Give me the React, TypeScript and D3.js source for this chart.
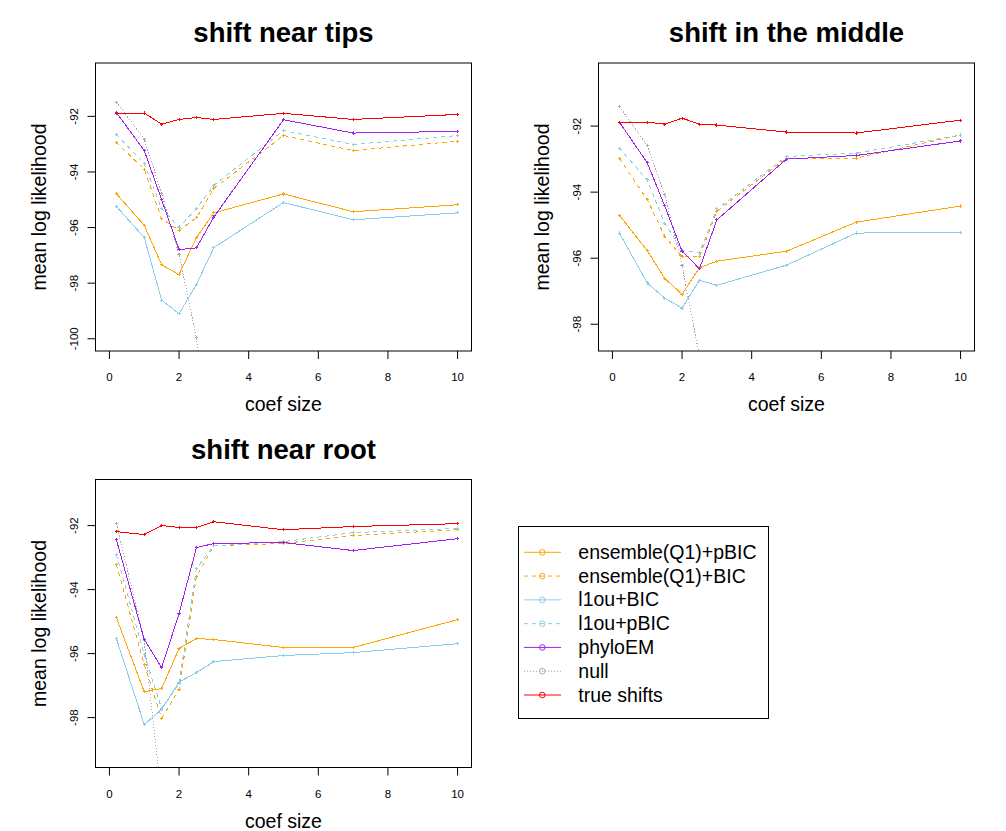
import React from "react";
import * as d3 from "d3";

// coefficient sizes on the x axis
const coefSizes = [0.2, 1, 1.5, 2, 2.5, 3, 5, 7, 10];

// legend order
const seriesNames = [
  "ensemble(Q1)+pBIC",
  "ensemble(Q1)+BIC",
  "l1ou+BIC",
  "l1ou+pBIC",
  "phyloEM",
  "null",
  "true shifts",
];

// shift near tips
const tipsEnsPBIC = [-94.78, -95.92, -97.34, -97.69, -96.36, -95.47, -94.79, -95.43, -95.18];
const tipsEnsBIC = [-92.94, -93.9, -95.68, -96.1, -95.65, -94.59, -92.69, -93.23, -92.89];
const tipsL1ouBIC = [-95.24, -96.36, -98.61, -99.1, -98.04, -96.72, -95.1, -95.72, -95.47];
const tipsL1ouPBIC = [-92.65, -93.7, -95.32, -95.98, -95.32, -94.48, -92.51, -93.01, -92.69];
const tipsPhyloEM = [-91.86, -93.23, -95.0, -96.79, -96.73, -95.62, -92.12, -92.6, -92.54];
const tipsNull = [-91.49, -92.82, -94.76, -96.98, -99.97, -105.0, -108.0, -110.0, -112.0];
const tipsTrue = [-91.88, -91.88, -92.28, -92.11, -92.04, -92.11, -91.89, -92.11, -91.93];

// shift in the middle
const midEnsPBIC = [-94.7, -95.77, -96.61, -97.09, -96.29, -96.09, -95.79, -94.91, -94.42];
const midEnsBIC = [-92.98, -94.23, -95.33, -95.96, -95.95, -94.58, -92.97, -92.97, -92.27];
const midL1ouBIC = [-95.24, -96.75, -97.21, -97.51, -96.67, -96.82, -96.21, -95.24, -95.21];
const midL1ouPBIC = [-92.67, -93.63, -94.94, -95.76, -95.84, -94.51, -92.92, -92.82, -92.27];
const midPhyloEM = [-91.88, -93.11, -94.41, -95.79, -96.32, -94.84, -93.0, -92.89, -92.45];
const midNull = [-91.41, -92.59, -94.06, -96.22, -98.97, -104.0, -108.0, -110.0, -112.0];
const midTrue = [-91.88, -91.88, -91.94, -91.76, -91.94, -91.97, -92.18, -92.21, -91.82];

// shift near root
const rootEnsPBIC = [-94.88, -97.19, -97.09, -95.84, -95.53, -95.56, -95.81, -95.81, -94.94];
const rootEnsBIC = [-93.22, -96.34, -98.02, -97.13, -93.59, -92.63, -92.56, -92.31, -92.13];
const rootL1ouBIC = [-95.53, -98.22, -97.74, -96.89, -96.59, -96.25, -96.06, -95.97, -95.69];
const rootL1ouPBIC = [-92.91, -96.03, -97.72, -96.94, -93.34, -92.63, -92.5, -92.22, -92.09];
const rootPhyloEM = [-92.44, -95.56, -96.44, -94.75, -92.69, -92.56, -92.53, -92.78, -92.41];
const rootNull = [-91.94, -95.6, -100.5, -105.0, -108.0, -110.0, -112.0, -114.0, -116.0];
const rootTrue = [-92.19, -92.28, -92.0, -92.06, -92.06, -91.88, -92.13, -92.03, -91.94];

const xTicks = [0, 2, 4, 6, 8, 10];
const tipsYTicks = [-100, -98, -96, -94, -92];
const midYTicks = [-98, -96, -94, -92];
const rootYTicks = [-98, -96, -94, -92];

const styles = [
  { color: "#FFA500", dash: null },
  { color: "#FFA500", dash: "4,4" },
  { color: "#87CEEB", dash: null },
  { color: "#87CEEB", dash: "4,4" },
  { color: "#A020F0", dash: null },
  { color: "#A9A9A9", dash: "1.3,1.7" },
  { color: "#FF0000", dash: null },
];

const FONT = "Liberation Sans, Arial, Helvetica, sans-serif";
const PW = 376;
const PH = 288;

const panels = [
  {
    id: "tips",
    title: "shift near tips",
    left: 95.5,
    top: 63,
    yDomain: [-100.44, -90.08],
    yTicks: tipsYTicks,
    series: [tipsEnsPBIC, tipsEnsBIC, tipsL1ouBIC, tipsL1ouPBIC, tipsPhyloEM, tipsNull, tipsTrue],
  },
  {
    id: "mid",
    title: "shift in the middle",
    left: 598.5,
    top: 63,
    yDomain: [-98.81, -90.09],
    yTicks: midYTicks,
    series: [midEnsPBIC, midEnsBIC, midL1ouBIC, midL1ouPBIC, midPhyloEM, midNull, midTrue],
  },
  {
    id: "root",
    title: "shift near root",
    left: 95.5,
    top: 479.5,
    yDomain: [-99.56, -90.56],
    yTicks: rootYTicks,
    series: [rootEnsPBIC, rootEnsBIC, rootL1ouBIC, rootL1ouPBIC, rootPhyloEM, rootNull, rootTrue],
  },
];

// null first so the other lines sit on top
const drawOrder = [5, 0, 1, 2, 3, 4, 6];

const Panel = ({ p }) => {
  const x = d3.scaleLinear().domain([-0.4, 10.4]).range([0, PW]);
  const y = d3.scaleLinear().domain(p.yDomain).range([PH, 0]);
  const line = d3
    .line<number>()
    .x((_, i) => x(coefSizes[i]))
    .y((d) => y(d));

  return (
    <g transform={`translate(${p.left},${p.top})`}>
      <defs>
        <clipPath id={`clip-${p.id}`}>
          <rect x={0} y={0} width={PW} height={PH} />
        </clipPath>
      </defs>
      <text
        x={PW / 2}
        y={-21}
        textAnchor="middle"
        fontFamily={FONT}
        fontWeight="bold"
        fontSize={27.5}
      >
        {p.title}
      </text>
      <g clipPath={`url(#clip-${p.id})`} shapeRendering="crispEdges">
        {drawOrder.map((k) => {
          const vals = p.series[k];
          const st = styles[k];
          return (
            <g key={k}>
              <path
                d={line(vals)}
                fill="none"
                stroke={st.color}
                strokeWidth={1}
                strokeDasharray={st.dash || undefined}
              />
              {vals.map((v, i) => (
                <path
                  key={i}
                  d={`M${x(coefSizes[i]) - 1.6},${y(v)}h3.2M${x(coefSizes[i])},${y(v) - 1.6}v3.2`}
                  stroke={st.color}
                  strokeWidth={1}
                />
              ))}
            </g>
          );
        })}
      </g>
      <rect x={0} y={0} width={PW} height={PH} fill="none" stroke="#000" strokeWidth={1} />
      {xTicks.map((t) => (
        <g key={t} transform={`translate(${x(t)},${PH})`}>
          <line y1={0} y2={8} stroke="#000" />
          <text y={30} textAnchor="middle" fontFamily={FONT} fontSize={11.5}>
            {t}
          </text>
        </g>
      ))}
      {p.yTicks.map((t) => (
        <g key={t} transform={`translate(0,${y(t)})`}>
          <line x1={0} x2={-8} stroke="#000" />
          <text
            transform="translate(-18,0) rotate(-90)"
            textAnchor="middle"
            fontFamily={FONT}
            fontSize={11.5}
          >
            {t}
          </text>
        </g>
      ))}
      <text
        x={PW / 2}
        y={PH + 60}
        textAnchor="middle"
        fontFamily={FONT}
        fontSize={19.5}
      >
        coef size
      </text>
      <text
        transform={`translate(-49.5,${PH / 2}) rotate(-90)`}
        textAnchor="middle"
        fontFamily={FONT}
        fontSize={19.5}
      >
        mean log likelihood
      </text>
    </g>
  );
};

const Legend = () => {
  const rowY = d3
    .scalePoint()
    .domain(seriesNames)
    .range([552.3, 695]);
  return (
    <g>
      <rect
        x={518.5}
        y={526.5}
        width={250}
        height={192}
        fill="#fff"
        stroke="#000"
        strokeWidth={1}
      />
      {seriesNames.map((name, i) => {
        const yy = rowY(name);
        const st = styles[i];
        return (
          <g key={name}>
            <line
              x1={524}
              x2={561}
              y1={yy}
              y2={yy}
              stroke={st.color}
              strokeDasharray={st.dash || undefined}
            />
            <circle cx={542.3} cy={yy} r={2.8} fill="none" stroke={st.color} />
            <text x={578.3} y={yy + 6.5} fontFamily={FONT} fontSize={19.5}>
              {name}
            </text>
          </g>
        );
      })}
    </g>
  );
};

export default function App() {
  return (
    <svg
      width={1006}
      height={831}
      style={{ position: "absolute", left: 0, top: 0, background: "#fff" }}
    >
      <rect width={1006} height={831} fill="#fff" />
      {panels.map((p) => (
        <Panel key={p.id} p={p} />
      ))}
      <Legend />
    </svg>
  );
}
